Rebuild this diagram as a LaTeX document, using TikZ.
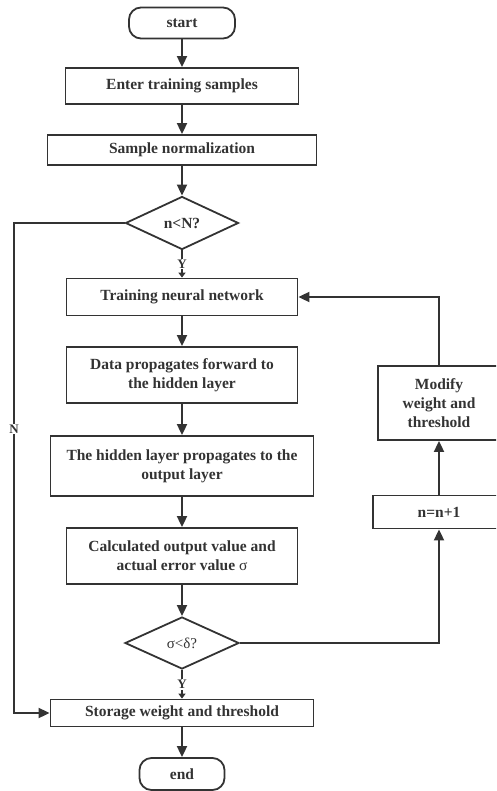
\documentclass[tikz,border=0pt]{standalone}
\usepackage{fontspec}
\setmainfont{Liberation Serif}
\usetikzlibrary{shapes.geometric,arrows.meta}
\definecolor{ink}{HTML}{333333}
\begin{document}
\begin{tikzpicture}[x=1pt,y=-1pt,
  every node/.style={text=ink,font=\bfseries\fontsize{15.5}{19}\selectfont,align=center,inner sep=1pt},
  box/.style={draw=ink,line width=1.8pt,rectangle,minimum width=#1},
  term/.style={draw=ink,line width=1.8pt,rectangle,rounded corners=12pt,minimum width=#1},
  dec/.style={draw=ink,line width=1.8pt,diamond,inner sep=0pt,minimum width=113pt,minimum height=53pt},
  conn/.style={draw=ink,line width=1.8pt,-{Triangle[length=11pt,width=10pt]}},
  yconn/.style={draw=ink,line width=1.8pt,-{Triangle[length=5pt,width=7pt]}},
  ylab/.style={fill=white,inner sep=1pt,font=\bfseries\fontsize{13}{15}\selectfont}
]
\useasboundingbox (0,0) rectangle (496,791);
\clip (0,0) rectangle (496,791);

\node[term=106pt,minimum height=31pt] (start) at (182,23) {start};
\node[box=233pt,minimum height=36pt] (enter) at (182,86) {Enter training samples};
\node[box=269pt,minimum height=30pt] (norm) at (182,150) {Sample normalization};
\node[dec] (d1) at (182,223) {n<N?};
\node[box=231pt,minimum height=37pt] (train) at (182,297) {Training neural network};
\node[box=231pt,minimum height=56pt] (data) at (182,375) {Data propagates forward to\\the hidden layer};
\node[box=263pt,minimum height=60pt] (hidden) at (182,466) {The hidden layer propagates to the\\output layer};
\node[box=231pt,minimum height=56pt] (calc) at (182,556) {Calculated output value and\\actual error value \textmd{σ}};
\node[dec,minimum width=114pt,minimum height=52pt,font=\fontsize{15}{18}\selectfont] (d2) at (182,643) {σ<δ?};
\node[box=263pt,minimum height=27pt] (store) at (182,713) {Storage weight and threshold};
\node[term=85pt,minimum height=32pt] (end) at (182,774) {end};
\node[box=122pt,minimum height=74pt] (modify) at (439,403) {Modify\\weight and\\threshold};
\node[box=132pt,minimum height=33pt] (inc) at (439,512) {n=n+1};

\coordinate (nl1) at (14,223);
\coordinate (nl2) at (14,713);
\coordinate (r1) at (439,643);
\coordinate (r2) at (439,297);

\draw[conn] (start) -- (enter);
\draw[conn] (enter) -- (norm);
\draw[conn] (norm) -- (d1);
\draw[yconn] (d1.south) -- node[ylab]{Y} (train.north);
\draw[conn] (train) -- (data);
\draw[conn] (data) -- (hidden);
\draw[conn] (hidden) -- (calc);
\draw[conn] (calc) -- (d2);
\draw[yconn] (d2.south) -- node[ylab]{Y} (store.north);
\draw[conn] (store) -- (end);
\draw[conn] (d1.west) -- (nl1) -- node[ylab,pos=0.42]{N} (nl2) -- (store.west);
\draw[conn] (d2.east) -- (r1) -- (inc.south);
\draw[conn] (inc) -- (modify);
\draw[conn] (modify.north) -- (r2) -- (train.east);
\end{tikzpicture}
\end{document}
